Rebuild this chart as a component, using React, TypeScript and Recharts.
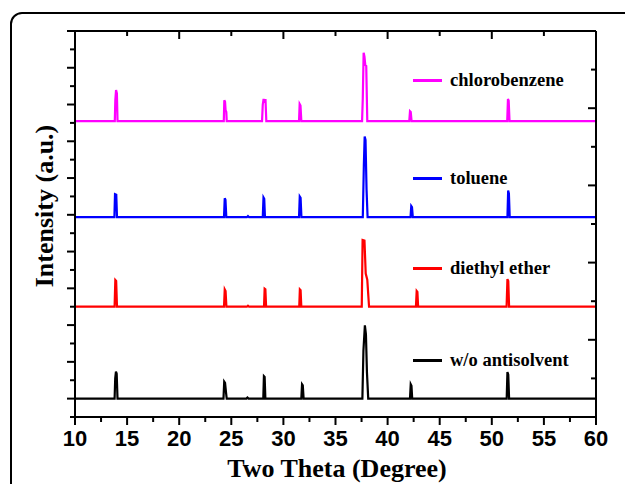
import { LineChart, Line, XAxis, YAxis } from 'recharts';

type Pt = [number, number];

// two-theta ticks
const xMajorTicks = [10, 15, 20, 25, 30, 35, 40, 45, 50, 55, 60];
const xMinorTicks = [12.5, 17.5, 22.5, 27.5, 32.5, 37.5, 42.5, 47.5, 52.5, 57.5];
const topMajorTicks = [20, 30, 40, 50];
const topMinorTicks = [15, 25, 35, 45, 55];
const leftMajorTicks = [1, 3, 5, 7, 9, 11, 13, 15, 17, 19, 21];
const leftMinorTicks = [0, 2, 4, 6, 8, 10, 12, 14, 16, 18, 20];
const rightMajorTicks = [0, 2, 4, 6, 8];
const rightMinorTicks = [1, 3, 5, 7, 9];

const seriesNames = ['w/o antisolvent', 'diethyl ether', 'toluene', 'chlorobenzene'];
const seriesColors = ['#000000', '#ff0000', '#0000ff', '#ff00ff'];
const seriesOffsets = [1.0, 6.0, 10.87, 16.1];

// [2theta, intensity]
const woAntisolvent: Pt[] = [
  [10, 0], [13.8, 0], [13.86, 1.1], [13.93, 1.47], [14.0, 1.35], [14.08, 0],
  [24.25, 0], [24.32, 0.92], [24.4, 0.85], [24.5, 0.3], [24.56, 0],
  [26.45, 0], [26.55, 0.06], [26.65, 0],
  [28.07, 0], [28.13, 1.22], [28.2, 1.18], [28.27, 0],
  [31.72, 0], [31.79, 0.78], [31.86, 0.72], [31.94, 0],
  [37.58, 0], [37.68, 2.6], [37.82, 3.99], [37.92, 3.5], [38.02, 1.4], [38.14, 0],
  [42.15, 0], [42.22, 0.78], [42.29, 0.7], [42.36, 0],
  [51.43, 0], [51.5, 1.45], [51.58, 1.3], [51.66, 0],
  [60, 0],
];

const diethylEther: Pt[] = [
  [10, 0], [13.8, 0], [13.87, 1.45], [13.95, 1.4], [14.03, 0],
  [24.3, 0], [24.37, 0.94], [24.45, 0.85], [24.53, 0],
  [26.5, 0], [26.6, 0.05], [26.7, 0],
  [28.14, 0], [28.2, 0.98], [28.27, 0.95], [28.34, 0],
  [31.52, 0], [31.58, 0.94], [31.65, 0.9], [31.72, 0],
  [37.52, 0], [37.6, 3.63], [37.78, 3.6], [37.9, 1.8], [38.05, 1.47], [38.15, 0.6], [38.22, 0],
  [42.72, 0], [42.79, 0.85], [42.86, 0.8], [42.93, 0],
  [51.42, 0], [51.5, 1.5], [51.58, 1.4], [51.66, 0],
  [60, 0],
];

const toluene: Pt[] = [
  [10, 0], [13.78, 0], [13.84, 1.25], [13.96, 1.22], [14.03, 0],
  [24.3, 0], [24.37, 1.03], [24.44, 0.95], [24.52, 0],
  [26.5, 0], [26.6, 0.06], [26.7, 0],
  [28.02, 0], [28.09, 1.07], [28.16, 1.0], [28.23, 0],
  [31.5, 0], [31.57, 1.12], [31.65, 1.05], [31.73, 0],
  [37.62, 0], [37.72, 2.8], [37.8, 4.39], [37.88, 4.2], [37.98, 1.5], [38.08, 0],
  [42.2, 0], [42.27, 0.61], [42.34, 0.55], [42.42, 0],
  [51.5, 0], [51.57, 1.45], [51.64, 1.3], [51.72, 0],
  [60, 0],
];

const chlorobenzene: Pt[] = [
  [10, 0], [13.82, 0], [13.87, 1.15], [13.94, 1.69], [14.02, 1.5], [14.08, 0],
  [24.28, 0], [24.33, 1.13], [24.4, 1.05], [24.45, 0.6], [24.52, 0.5], [24.56, 0],
  [27.95, 0], [28.02, 0.9], [28.1, 1.2], [28.2, 1.0], [28.28, 1.2], [28.36, 0],
  [31.5, 0], [31.56, 0.93], [31.64, 0.85], [31.72, 0],
  [37.55, 0], [37.62, 1.25], [37.7, 3.72], [37.78, 3.5], [37.86, 3.05], [37.95, 3.0], [38.05, 0],
  [42.08, 0], [42.15, 0.54], [42.22, 0.5], [42.3, 0],
  [51.48, 0], [51.55, 1.2], [51.62, 1.1], [51.7, 0],
  [60, 0],
];

const seriesPoints = [woAntisolvent, diethylEther, toluene, chlorobenzene];

// legend rows (top px of each entry)
const legendTops = [350, 258, 168, 70];

const serif = '"Liberation Serif", "Times New Roman", serif';
const sans = '"Liberation Sans", Arial, sans-serif';
const axisStroke = { stroke: '#000', strokeWidth: 2 };

const sortNum = (a: number[], b: number[]) => [...a, ...b].sort((p, q) => p - q);

// tick mark drawn by hand so major / minor can have different lengths
function makeTick(side: 'bottom' | 'top' | 'left' | 'right', major: number[], labels: boolean) {
  return (props: any) => {
    const { x, y, payload } = props;
    const isMajor = major.includes(payload.value);
    const len = isMajor ? 8 : 5;
    let x2 = x;
    let y2 = y;
    if (side === 'bottom') y2 = y + len;
    if (side === 'top') y2 = y + len;
    if (side === 'left') x2 = x - len;
    if (side === 'right') x2 = x - len;
    return (
      <g>
        <line x1={x} y1={y} x2={x2} y2={y2} stroke="#000" strokeWidth={2} />
        {labels && isMajor && (
          <text x={x} y={y + 13} dy="0.71em" textAnchor="middle" fill="#000"
            style={{ fontFamily: sans, fontWeight: 'bold', fontSize: 22 }}>
            {payload.value}
          </text>
        )}
      </g>
    );
  };
}

export default function App() {
  const series = seriesPoints.map((pts, i) => ({
    name: seriesNames[i],
    color: seriesColors[i],
    data: pts.map(([x, v]) => ({ x, y: v + seriesOffsets[i] })),
  }));

  return (
    <div style={{ position: 'absolute', left: 0, top: 0, width: 625, height: 484, overflow: 'hidden', background: '#fff' }}>
      {/* outer frame */}
      <div
        style={{
          position: 'absolute', left: 10, top: 12, width: 640, height: 500,
          border: '2px solid #000', borderRadius: 12,
        }}
      />
      <LineChart width={625} height={484} margin={{ top: 31, right: 29, bottom: 27, left: 65 }} style={{ position: 'absolute', left: 0, top: 0 }}>
        <XAxis xAxisId="b" type="number" dataKey="x" domain={[10, 60]} allowDataOverflow
          ticks={sortNum(xMajorTicks, xMinorTicks)} interval={0} height={40}
          tickSize={0} tickMargin={0} axisLine={axisStroke} tickLine={false}
          tick={makeTick('bottom', xMajorTicks, true)} />
        <XAxis xAxisId="t" orientation="top" mirror type="number" dataKey="x" domain={[10, 60]} allowDataOverflow
          ticks={sortNum(topMajorTicks, topMinorTicks)} interval={0} height={10}
          tickSize={0} tickMargin={0} axisLine={axisStroke} tickLine={false}
          tick={makeTick('top', topMajorTicks, false)} />
        <YAxis yAxisId="l" type="number" domain={[0, 21]} allowDataOverflow
          ticks={sortNum(leftMajorTicks, leftMinorTicks)} interval={0} width={10}
          tickSize={0} tickMargin={0} axisLine={axisStroke} tickLine={false}
          tick={makeTick('left', leftMajorTicks, false)} />
        <YAxis yAxisId="r" orientation="right" mirror type="number" domain={[0, 10]} allowDataOverflow
          ticks={sortNum(rightMajorTicks, rightMinorTicks)} interval={0} width={10}
          tickSize={0} tickMargin={0} axisLine={axisStroke} tickLine={false}
          tick={makeTick('right', rightMajorTicks, false)} />
        {series.map((s) => (
          <Line
            key={s.name}
            xAxisId="b"
            yAxisId="l"
            data={s.data}
            dataKey="y"
            name={s.name}
            type="linear"
            stroke={s.color}
            strokeWidth={2.2}
            dot={false}
            activeDot={false}
            isAnimationActive={false}
          />
        ))}
      </LineChart>

      {/* legend */}
      {series.map((s, i) => (
        <div key={s.name} style={{ position: 'absolute', left: 413, top: legendTops[i], display: 'flex', alignItems: 'center' }}>
          <div style={{ width: 29, height: 3, background: s.color, marginRight: 8 }} />
          <span style={{ fontFamily: serif, fontWeight: 'bold', fontSize: 18.5, color: '#000', whiteSpace: 'nowrap' }}>{s.name}</span>
        </div>
      ))}

      {/* axis titles */}
      <div style={{
        position: 'absolute', left: 45, top: 206, transform: 'translate(-50%, -50%) rotate(-90deg)',
        fontFamily: serif, fontWeight: 'bold', fontSize: 26, whiteSpace: 'nowrap', color: '#000',
      }}>
        Intensity (a.u.)
      </div>
      <div style={{
        position: 'absolute', left: 337, top: 469, transform: 'translate(-50%, -50%)',
        fontFamily: serif, fontWeight: 'bold', fontSize: 26, whiteSpace: 'nowrap', color: '#000',
      }}>
        Two Theta (Degree)
      </div>
    </div>
  );
}
